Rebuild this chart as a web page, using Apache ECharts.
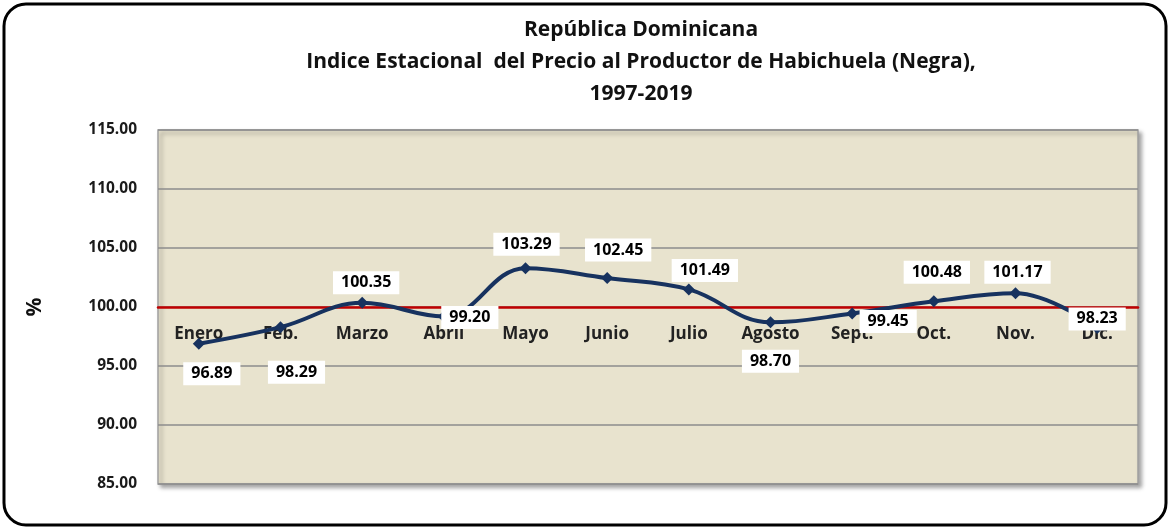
<!DOCTYPE html>
<html>
<head>
<meta charset="utf-8">
<script src="https://cdn.jsdelivr.net/npm/echarts@6/dist/echarts.min.js"></script>
<style>
  html, body { margin: 0; padding: 0; background: #fff; }
  #chart { width: 1170px; height: 529px; }
</style>
</head>
<body>
<div id="chart"></div>
<script>
const months = ['Enero', 'Feb.', 'Marzo', 'Abril', 'Mayo', 'Junio', 'Julio', 'Agosto', 'Sept.', 'Oct.', 'Nov.', 'Dic.'];
const indexValues = [96.89, 98.29, 100.35, 99.20, 103.29, 102.45, 101.49, 98.70, 99.45, 100.48, 101.17, 98.23];
const yTicks = [85, 90, 95, 100, 105, 110, 115];

// where each value box sits relative to its point (styling only)
const labelPlace = [
  [13, 30], [16, 45], [4, -20], [26, 1], [1, -24], [11, -28],
  [16, -19], [0, 39], [36, 8], [3, -29], [2, -21], [0, -9]
];

const FONT = '"Open Sans", Lato, sans-serif';
const chart = echarts.init(document.getElementById('chart'));

chart.setOption({
  backgroundColor: '#ffffff',
  textStyle: { fontFamily: FONT },
  title: {
    text: 'República Dominicana\nIndice Estacional  del Precio al Productor de Habichuela (Negra),\n1997-2019',
    left: 636,
    top: 9,
    textAlign: 'center',
    textStyle: { fontSize: 21, fontWeight: 'bold', color: '#111', lineHeight: 32, fontFamily: FONT }
  },
  graphic: [{
    type: 'rect',
    shape: { x: 4, y: 4, width: 1162, height: 521, r: 22 },
    style: { fill: 'none', stroke: '#000', lineWidth: 3 },
    silent: true
  }],
  grid: {
    left: 158, right: 32, top: 130, bottom: 45,
    show: true,
    backgroundColor: '#E8E3CE',
    borderColor: '#A0A0A0',
    borderWidth: 1.5,
    shadowColor: 'rgba(0,0,0,0.35)',
    shadowBlur: 4,
    shadowOffsetX: 3,
    shadowOffsetY: 3
  },
  xAxis: {
    type: 'category',
    data: months,
    boundaryGap: true,
    position: 'bottom',
    offset: -177,
    axisLine: { lineStyle: { color: '#C00000', width: 2.5 } },
    axisTick: { show: false },
    axisLabel: { color: '#222', fontWeight: 'bold', fontSize: 17, margin: 19, fontFamily: FONT },
    splitLine: { show: false }
  },
  yAxis: {
    type: 'value',
    min: yTicks[0],
    max: yTicks[yTicks.length - 1],
    interval: 5,
    name: '%',
    nameLocation: 'middle',
    nameGap: 112,
    nameRotate: 90,
    nameTextStyle: { fontSize: 21, fontWeight: 'bold', color: '#111', fontFamily: FONT },
    axisLine: { show: false },
    axisTick: { show: false },
    axisLabel: {
      color: '#1a1a1a', fontWeight: 'bold', fontSize: 15.5, margin: 21, fontFamily: FONT,
      formatter: v => v.toFixed(2)
    },
    splitLine: { lineStyle: { color: '#8C8C8C', width: 1.5 } }
  },
  series: [{
    type: 'line',
    data: indexValues.map((v, i) => ({
      value: v,
      label: { position: 'inside', offset: labelPlace[i] }
    })),
    smooth: 0.4,
    symbol: 'diamond',
    symbolSize: 12,
    lineStyle: { color: '#17325F', width: 4 },
    itemStyle: { color: '#17325F' },
    label: {
      show: true,
      formatter: p => p.value.toFixed(2),
      backgroundColor: '#ffffff',
      padding: [4, 8, 3, 8],
      color: '#000',
      fontWeight: 'bold',
      fontSize: 16,
      fontFamily: FONT
    },
    z: 3
  }]
});
</script>
</body>
</html>
